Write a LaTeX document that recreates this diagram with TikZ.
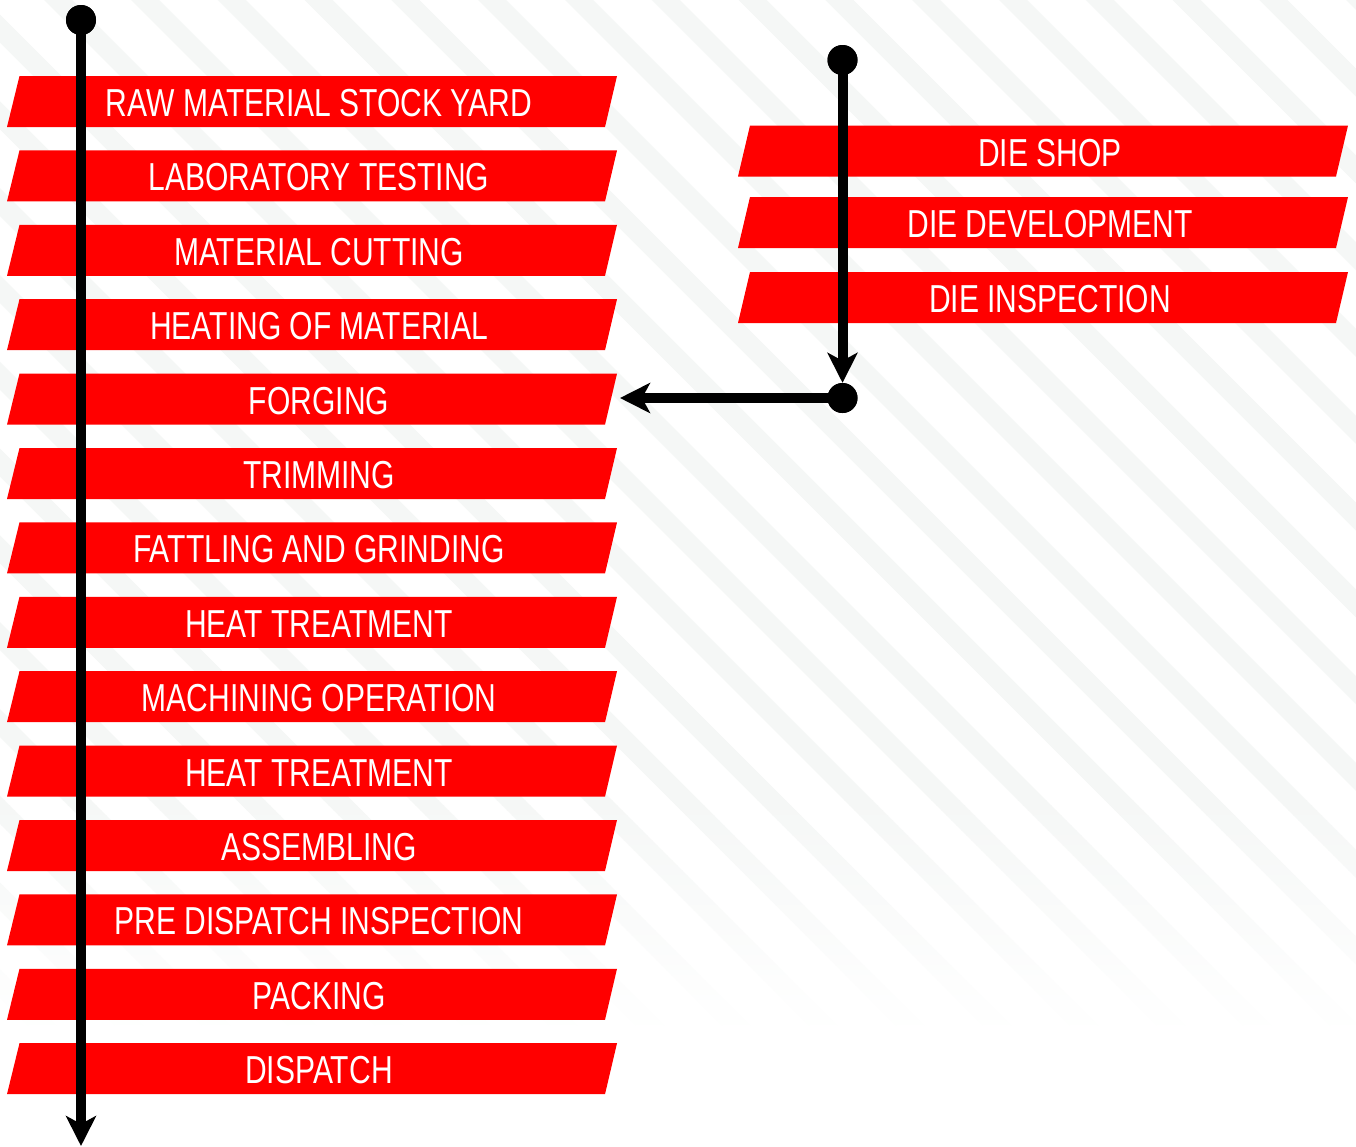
\documentclass[tikz,border=0pt]{standalone}
\usepackage{fontspec}
\usetikzlibrary{arrows.meta}
\newfontfamily\barfont[FakeStretch=0.77]{Liberation Sans}
\definecolor{barred}{RGB}{255,0,0}
\definecolor{stripecol}{RGB}{245,247,246}
\tikzset{
  lbl/.style={text=white, font=\barfont\fontsize{39}{39}\selectfont, anchor=base, inner sep=0pt},
  redbar/.style={fill=barred},
  dot/.style={circle, fill=black, minimum size=30pt, inner sep=0pt},
  flow/.style={line width=10pt, draw=black, -{Stealth[length=30pt,width=30pt,inset=8pt]}},
  stripeline/.style={line width=19.8pt},
}
\newcommand\stripes[1]{%
  \foreach \k in {-4,...,25}{
    \pgfmathsetmacro\cc{1013-86.8*\k}
    \draw[stripeline,#1] (\cc-20,-20) -- (\cc+1200,1200);
  }}
\begin{document}
\begin{tikzpicture}[x=1pt,y=-1pt]
\useasboundingbox (0,0) rectangle (1356,1146);
\fill[white] (0,0) rectangle (1356,1146);
% background stripes, fading out towards the bottom
\begin{scope}
  \clip (0,0) rectangle (1356,800);
  \stripes{stripecol}
\end{scope}
\foreach \b in {0,...,45}{
  \pgfmathsetmacro\ya{800+5*\b}
  \pgfmathsetmacro\yb{805+5*\b}
  \pgfmathsetmacro\pc{100-\b*100/46}
  \begin{scope}
    \clip (0,\ya) rectangle (1356,\yb);
    \stripes{stripecol!\pc!white}
  \end{scope}
}
% left column bars
\foreach \t/\txt/\nm in {
  76/RAW MATERIAL STOCK YARD/raw,
  150.4/LABORATORY TESTING/lab,
  224.8/MATERIAL CUTTING/cut,
  299.2/HEATING OF MATERIAL/heat,
  373.6/FORGING/forging,
  448/TRIMMING/trim,
  522.4/FATTLING AND GRINDING/fett,
  596.8/HEAT TREATMENT/ht1,
  671.2/MACHINING OPERATION/mach,
  745.6/HEAT TREATMENT/ht2,
  820/ASSEMBLING/assy,
  894.4/PRE DISPATCH INSPECTION/pdi,
  968.8/PACKING/pack,
  1043.2/DISPATCH/disp}{
  \fill[redbar] (19.5,\t) -- (617,\t) -- (605,\t+51) -- (7,\t+51) -- cycle;
  \node[lbl] (\nm) at (319,\t+40.5) {\txt};
}
% right column bars
\foreach \t/\txt/\nm in {
  125.5/DIE SHOP/dshop,
  197/DIE DEVELOPMENT/ddev,
  272/DIE INSPECTION/dinsp}{
  \fill[redbar] (750,\t) -- (1348,\t) -- (1336,\t+51) -- (738,\t+51) -- cycle;
  \node[lbl] (\nm) at (1050,\t+40.5) {\txt};
}
% connectors
\node[dot] (s1) at (81,20) {};
\coordinate (e1) at (81,1146);
\draw[flow] (s1.center) -- (e1);
\node[dot] (s2) at (842.5,60) {};
\node[dot] (j) at (842.5,398) {};
\draw[flow] (s2.center) -- (j.north);
\coordinate (fin) at (620,398);
\draw[flow] (j.center) -- (fin);
\node[dot] at (s1) {};
\node[dot] at (s2) {};
\node[dot] at (j) {};
\end{tikzpicture}
\end{document}
